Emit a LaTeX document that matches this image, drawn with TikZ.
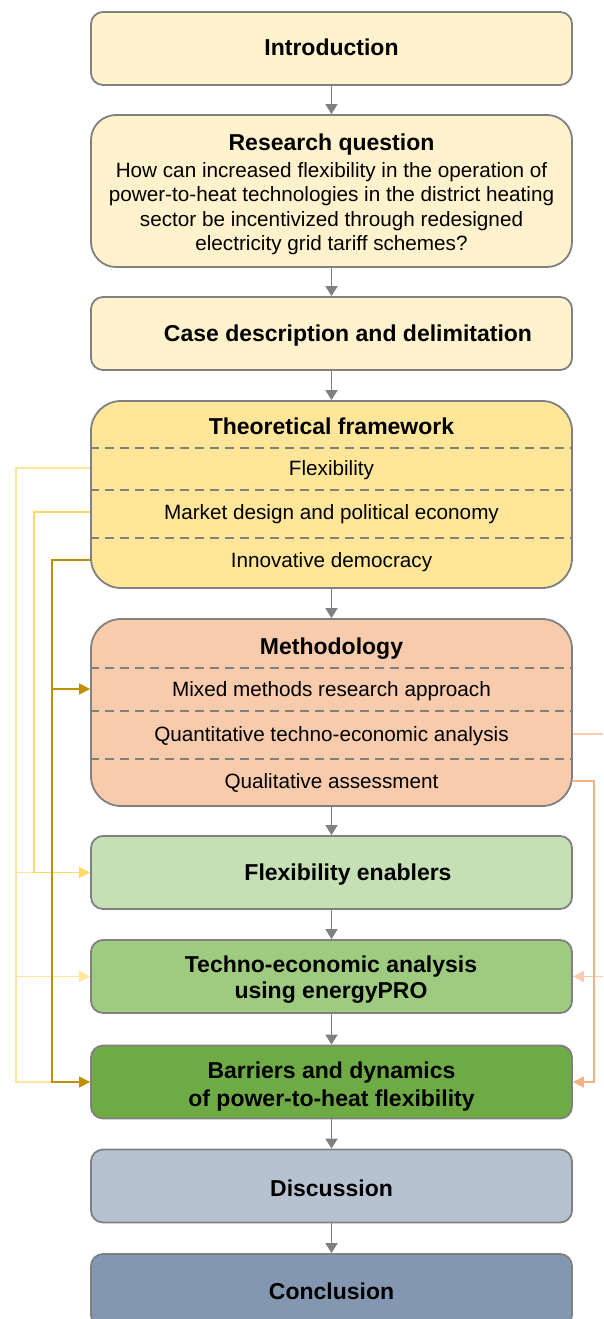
\documentclass[tikz,border=0pt]{standalone}
\usepackage{fontspec}
\setmainfont{Liberation Sans}
\usetikzlibrary{arrows.meta,positioning}

\definecolor{paleyellow}{HTML}{FFF2CC}
\definecolor{theoryfill}{HTML}{FFE699}
\definecolor{methodfill}{HTML}{F8CBAD}
\definecolor{enabfill}{HTML}{C5E0B4}
\definecolor{tecnofill}{HTML}{9FCB80}
\definecolor{barrfill}{HTML}{6EAB45}
\definecolor{discfill}{HTML}{B6C2D0}
\definecolor{conclfill}{HTML}{8497B0}
\definecolor{boxgray}{HTML}{808080}
\definecolor{lineyellow}{HTML}{FFE699}
\definecolor{midyellow}{HTML}{FFD966}
\definecolor{darkgold}{HTML}{BF9000}
\definecolor{peach}{HTML}{F8CBAD}
\definecolor{deeppeach}{HTML}{F4B183}

\newcommand{\stagefont}{\fontsize{23}{27}\selectfont\bfseries}
\newcommand{\itemfont}{\fontsize{20.7}{24.5}\selectfont}

\tikzset{
  stage/.style={draw=boxgray, line width=1.8pt, rounded corners=12pt,
    minimum width=481pt, minimum height=73pt, inner sep=0pt,
    align=center, font=\stagefont},
  bigstage/.style={stage, rounded corners=30pt, minimum height=187pt},
  head/.style={font=\stagefont, inner sep=0pt, text height=16.5pt, text depth=0pt},
  item/.style={font=\itemfont, inner sep=0pt, text height=14.9pt, text depth=0pt},
  sep/.style={boxgray, line width=1.6pt, dash pattern=on 9pt off 6pt},
  flow/.style={boxgray, line width=1.8pt, -{Triangle[length=10pt,width=12pt]}},
  link/.style={line width=1.6pt},
  tip/.style={-{Triangle[length=11pt,width=11pt]}},
}

\begin{document}
\begin{tikzpicture}[x=1pt, y=-1pt]
  \useasboundingbox (0,0) rectangle (603,1319);

  % Opening stages
  \node[stage, fill=paleyellow] (intro) at (331.5,48.5) {};
  \node[head] (introtext) at (331.5,47.5) {Introduction};

  \node[stage, fill=paleyellow, rounded corners=25pt, minimum height=152pt] (rq) at (331.5,191) {};
  \node[head] (rqhead) at (331.5,142) {Research question};
  \node[font=\itemfont, align=center, inner sep=0pt] (rqbody) at (331.5,208.5)
    {How can increased flexibility in the operation of\\
     power-to-heat technologies in the district heating\\
     sector be incentivized through redesigned\\
     electricity grid tariff schemes?};

  \node[stage, fill=paleyellow] (case) at (331.5,333.5) {};
  \node[head] (casetext) at (348,333.5) {Case description and delimitation};

  % Theoretical framework with its three parts
  \node[bigstage, fill=theoryfill] (theory) at (331.5,494.5) {};
  \node[head] (theoryhead) at (331.5,426) {Theoretical framework};
  \node[item] (flex) at (331.5,468) {Flexibility};
  \node[item] (market) at (331.5,512) {Market design and political economy};
  \node[item] (democ) at (331.5,560) {Innovative democracy};
  \foreach \y in {448,490,538}
    \draw[sep] (theory.west |- 0,\y) -- (theory.east |- 0,\y);

  % Methodology with its three parts
  \node[bigstage, fill=methodfill] (method) at (331.5,712.5) {};
  \node[head] (methodhead) at (331.5,646) {Methodology};
  \node[item] (mixed) at (331.5,689) {Mixed methods research approach};
  \node[item] (quant) at (331.5,734) {Quantitative techno-economic analysis};
  \node[item] (qual) at (331.5,781) {Qualitative assessment};
  \foreach \y in {668,711,759}
    \draw[sep] (method.west |- 0,\y) -- (method.east |- 0,\y);

  % Analysis stages
  \node[stage, fill=enabfill] (enab) at (331.5,872.5) {};
  \node[head] (enabtext) at (348,872.5) {Flexibility enablers};

  \node[stage, fill=tecnofill] (tecno) at (331.5,976.5) {};
  \node[head] (tecnotop) at (331,964) {Techno-economic analysis};
  \node[head] (tecnobot) at (331,990) {using energyPRO};

  \node[stage, fill=barrfill] (barr) at (331.5,1082) {};
  \node[head] (barrtop) at (331.5,1070) {Barriers and dynamics};
  \node[head] (barrbot) at (331.5,1098) {of power-to-heat flexibility};

  % Closing stages
  \node[stage, fill=discfill] (disc) at (331.5,1186) {};
  \node[head] (disctext) at (331.5,1188) {Discussion};
  \node[stage, fill=conclfill] (concl) at (331.5,1290.5) {};
  \node[head] (concltext) at (331.5,1291) {Conclusion};

  % Main flow
  \foreach \a/\b in {intro/rq, rq/case, case/theory, theory/method,
                     method/enab, enab/tecno, tecno/barr, barr/disc, disc/concl}
    \draw[flow] (\a) -- (\b);

  % Feeds from the theory (left)
  \coordinate (xa) at (16,0);
  \coordinate (xb) at (34,0);
  \coordinate (xc) at (52,0);

  \draw[link, lineyellow] (theory.west |- flex) -| (xa |- barr) -- (xc |- barr);
  \draw[link, lineyellow] (xa |- enab) -- (xb |- enab);
  \draw[link, lineyellow, tip] (xa |- tecno) -- (tecno.west);

  \draw[link, midyellow, tip] (theory.west |- market) -| (xb |- enab) -- (enab.west);

  \draw[link, darkgold, tip] (theory.west |- democ) -| (xc |- barr) -- (barr.west);
  \draw[link, darkgold, tip] (xc |- mixed) -- (method.west |- mixed);

  % Feeds from the methodology (right)
  \coordinate (xr) at (594,0);
  \coordinate (xe) at (603,0);

  \draw[link, peach] (method.east |- quant) -- (xe |- quant);
  \draw[link, peach, tip] (xe |- tecno) -- (tecno.east);
  \draw[link, deeppeach, tip] (method.east |- qual) -| (xr |- barr) -- (barr.east);

\end{tikzpicture}
\end{document}
